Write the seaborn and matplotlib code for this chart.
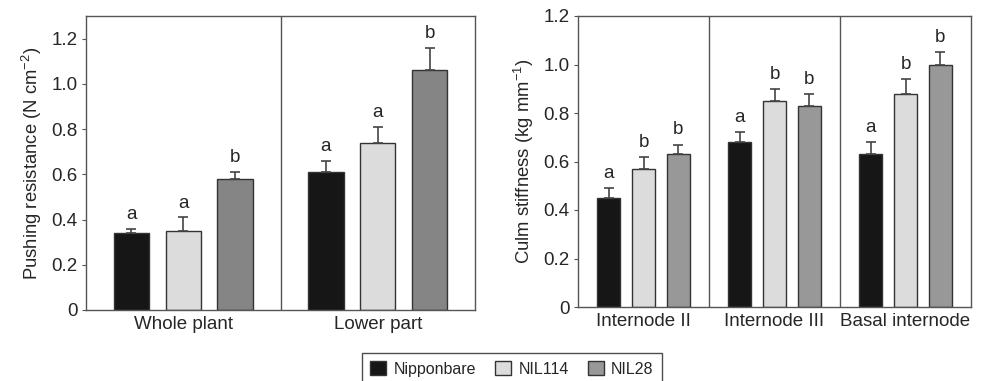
import numpy as np
import pandas as pd
import seaborn as sns
import matplotlib.pyplot as plt
from matplotlib.patches import Patch
from matplotlib.ticker import FuncFormatter

sns.set_style('white')
plt.rcParams['font.family'] = ['Liberation Sans', 'DejaVu Sans']
plt.rcParams['mathtext.default'] = 'regular'

lines = ['Nipponbare', 'NIL114', 'NIL28']
colors_left = ['#161616', '#dcdcdc', '#858585']
colors_right = ['#161616', '#dcdcdc', '#989898']

# pushing resistance
push_groups = ['Whole plant', 'Lower part']
push_nip = [0.34, 0.61]
push_114 = [0.35, 0.74]
push_28 = [0.58, 1.06]
push_err_nip = [0.02, 0.05]
push_err_114 = [0.06, 0.07]
push_err_28 = [0.03, 0.10]
push_lab_nip = ['a', 'a']
push_lab_114 = ['a', 'a']
push_lab_28 = ['b', 'b']

# culm stiffness
culm_groups = ['Internode II', 'Internode III', 'Basal internode']
culm_nip = [0.45, 0.68, 0.63]
culm_114 = [0.57, 0.85, 0.88]
culm_28 = [0.63, 0.83, 1.00]
culm_err_nip = [0.04, 0.04, 0.05]
culm_err_114 = [0.05, 0.05, 0.06]
culm_err_28 = [0.04, 0.05, 0.05]
culm_lab_nip = ['a', 'a', 'a']
culm_lab_114 = ['b', 'b', 'b']
culm_lab_28 = ['b', 'b', 'b']


def make_df(groups, vals, errs, labs):
    rows = []
    for line, v, e, l in zip(lines, vals, errs, labs):
        for g, vv, ee, ll in zip(groups, v, e, l):
            rows.append({'group': g, 'line': line, 'value': vv, 'err': ee, 'lab': ll})
    return pd.DataFrame(rows)


def panel(ax, df, groups, palette, ylim, ylabel):
    sns.barplot(data=df, x='group', y='value', hue='line', order=groups,
                hue_order=lines, palette=palette, width=0.8, gap=0.32,
                edgecolor='#333333', linewidth=1.0, errorbar=None,
                legend=False, ax=ax)
    for i, line in enumerate(lines):
        cont = ax.containers[i]
        sub = df[df.line == line].set_index('group').loc[groups]
        xs = [p.get_x() + p.get_width() / 2 for p in cont.patches]
        ax.errorbar(xs, sub.value, yerr=[np.zeros(len(xs)), sub.err],
                    fmt='none', ecolor='#444444', elinewidth=1.2,
                    capsize=3.3, capthick=1.2, zorder=1)
        for x, v, e, l in zip(xs, sub.value, sub.err, sub.lab):
            ax.text(x, v + e + 0.025, l, ha='center', va='bottom', fontsize=13.5)
    for k in range(1, len(groups)):
        ax.axvline(k - 0.5, color='#555555', lw=1)
    ax.set_xlim(-0.5, len(groups) - 0.5)
    ax.set_ylim(*ylim)
    ax.set_yticks(np.arange(0, 1.21, 0.2))
    ax.yaxis.set_major_formatter(FuncFormatter(lambda v, p: '0' if v == 0 else f'{v:.1f}'))
    ax.tick_params(axis='y', length=3, width=0.8, color='#555555', labelsize=13.5, pad=3, left=True)
    ax.tick_params(axis='x', length=0, labelsize=13.5, pad=4)
    ax.set_xlabel('')
    ax.set_ylabel(ylabel, fontsize=13.3, labelpad=5)
    for s in ax.spines.values():
        s.set_color('#555555')
        s.set_linewidth(1.0)


fig = plt.figure(figsize=(9.82, 3.81), dpi=100)
W, H = 982, 381
ax1 = fig.add_axes([86 / W, (H - 310) / H, 389 / W, 294 / H])
ax2 = fig.add_axes([578 / W, (H - 307) / H, 393 / W, 291 / H])

df1 = make_df(push_groups, [push_nip, push_114, push_28],
              [push_err_nip, push_err_114, push_err_28],
              [push_lab_nip, push_lab_114, push_lab_28])
df2 = make_df(culm_groups, [culm_nip, culm_114, culm_28],
              [culm_err_nip, culm_err_114, culm_err_28],
              [culm_lab_nip, culm_lab_114, culm_lab_28])

panel(ax1, df1, push_groups, colors_left, (0, 1.3), 'Pushing resistance (N cm$^{-2}$)')
panel(ax2, df2, culm_groups, colors_right, (0, 1.2), 'Culm stiffness (kg mm$^{-1}$)')

handles = [Patch(facecolor=c, edgecolor='#333333', lw=1) for c in colors_right]
leg = fig.legend(handles, lines, loc='upper center', bbox_to_anchor=(512 / W, (H - 353) / H),
                 ncol=3, frameon=True, fontsize=11.5, handlelength=1.0, handleheight=1.0,
                 handletextpad=0.45, columnspacing=1.2, borderpad=0.5, borderaxespad=0,
                 fancybox=False)
leg.get_frame().set_edgecolor('#222222')
leg.get_frame().set_linewidth(1.0)

fig.savefig('out.png', dpi=100)
